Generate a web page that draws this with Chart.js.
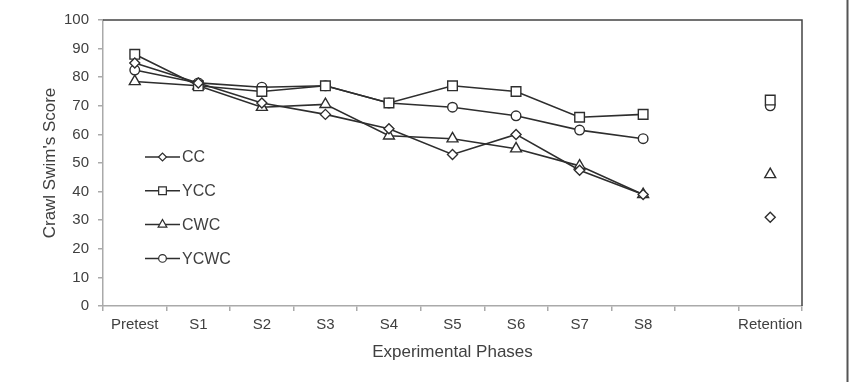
<!DOCTYPE html>
<html>
<head>
<meta charset="utf-8">
<script src="https://cdn.jsdelivr.net/npm/chart.js"></script>
<style>
  html, body { margin: 0; padding: 0; background: #fff; }
  #wrap { width: 851px; height: 382px; position: relative; }
</style>
</head>
<body>
<div id="wrap"><canvas id="swimChart" width="851" height="382"></canvas></div>
<script>
// categories (the empty slot separates S8 from Retention)
const phases = ['Pretest', 'S1', 'S2', 'S3', 'S4', 'S5', 'S6', 'S7', 'S8', '', 'Retention'];

// scores
const ccScores   = [85, 78, 71, 67, 62, 53, 60, 47.5, 39, null, 31];
const yccScores  = [88, 77, 75, 77, 71, 77, 75, 66, 67, null, 72];
const cwcScores  = [78.5, 77, 69.5, 70.5, 59.5, 58.5, 55, 49, 39, null, 46];
const ycwcScores = [82.5, 78, 76.5, 77, 71, 69.5, 66.5, 61.5, 58.5, null, 70];

const yTicks = { min: 0, max: 100, step: 10 };

const ink = '#2e2e2e';
const textColor = '#404040';
const axisGrey = '#aaaaaa';
const fontFamily = '"Liberation Sans", Arial, sans-serif';

function series(label, data, style, radius) {
    return {
        label: label,
        data: data,
        borderColor: ink,
        borderWidth: 1.6,
        backgroundColor: '#ffffff',
        pointStyle: style,
        pointRadius: radius,
        pointBorderColor: ink,
        pointBackgroundColor: '#ffffff',
        pointBorderWidth: 1.4,
        spanGaps: false,
        tension: 0
    };
}

// legend drawn inside the plot, lines with the marker in the middle
const innerLegend = {
    id: 'innerLegend',
    afterDatasetsDraw(chart) {
        const ctx = chart.ctx;
        const x0 = 145, x1 = 180, y0 = 157, gap = 33.8;
        ctx.save();
        chart.data.datasets.forEach((ds, i) => {
            const y = y0 + i * gap;
            ctx.strokeStyle = ink;
            ctx.lineWidth = 1.5;
            ctx.beginPath();
            ctx.moveTo(x0, y);
            ctx.lineTo(x1, y);
            ctx.stroke();
            ctx.fillStyle = '#ffffff';
            ctx.strokeStyle = ink;
            ctx.lineWidth = 1.2;
            Chart.helpers.drawPoint(ctx, {
                pointStyle: ds.pointStyle,
                radius: ds.pointRadius * 0.8,
                rotation: 0,
                borderWidth: 1.2
            }, (x0 + x1) / 2, y);
            ctx.fillStyle = textColor;
            ctx.font = '16px ' + fontFamily;
            ctx.textBaseline = 'middle';
            ctx.textAlign = 'left';
            ctx.fillText(ds.label, x1 + 2, y + 1);
        });
        ctx.restore();
    },
    afterDraw(chart) {
        const ctx = chart.ctx;
        const a = chart.chartArea;
        ctx.save();
        // top and right border of the plot
        ctx.strokeStyle = '#444444';
        ctx.lineWidth = 1.5;
        ctx.beginPath();
        ctx.moveTo(a.left, a.top);
        ctx.lineTo(a.right, a.top);
        ctx.lineTo(a.right, a.bottom);
        ctx.stroke();
        // page frame line on the right
        ctx.strokeStyle = '#555555';
        ctx.lineWidth = 2;
        ctx.beginPath();
        ctx.moveTo(847.5, 0);
        ctx.lineTo(847.5, chart.height);
        ctx.stroke();
        ctx.restore();
    }
};

const swimChart = new Chart(document.getElementById('swimChart'), {
    type: 'line',
    data: {
        labels: phases,
        datasets: [
            series('CC', ccScores, 'rectRot', 5),
            series('YCC', yccScores, 'rect', 6.8),
            series('CWC', cwcScores, 'triangle', 6.3),
            series('YCWC', ycwcScores, 'circle', 4.8)
        ]
    },
    options: {
        responsive: false,
        animation: false,
        layout: { padding: { top: 20, right: 49, bottom: 0, left: 0 } },
        plugins: {
            legend: { display: false },
            tooltip: { enabled: false }
        },
        scales: {
            x: {
                offset: true,
                grid: {
                    offset: true,
                    drawOnChartArea: false,
                    drawTicks: true,
                    tickLength: 5,
                    color: axisGrey,
                    lineWidth: 1.5
                },
                border: { color: axisGrey, width: 1.5 },
                ticks: {
                    color: textColor,
                    font: { family: fontFamily, size: 15 },
                    padding: 5,
                    maxRotation: 0,
                    autoSkip: false
                },
                title: {
                    display: true,
                    text: 'Experimental Phases',
                    color: textColor,
                    font: { family: fontFamily, size: 17 },
                    padding: { top: 0, bottom: 19 }
                },
                afterFit(scale) { scale.height = 76; }
            },
            y: {
                min: yTicks.min,
                max: yTicks.max,
                grid: {
                    drawOnChartArea: false,
                    drawTicks: true,
                    tickLength: 5,
                    color: axisGrey,
                    lineWidth: 1.5
                },
                border: { color: axisGrey, width: 1.5 },
                ticks: {
                    stepSize: yTicks.step,
                    color: textColor,
                    font: { family: fontFamily, size: 15 },
                    padding: 9
                },
                title: {
                    display: true,
                    text: "Crawl Swim's Score",
                    color: textColor,
                    font: { family: fontFamily, size: 17 },
                    padding: { top: 40, bottom: 0 }
                },
                afterFit(scale) { scale.width = 103; }
            }
        }
    },
    plugins: [innerLegend]
});
</script>
</body>
</html>
